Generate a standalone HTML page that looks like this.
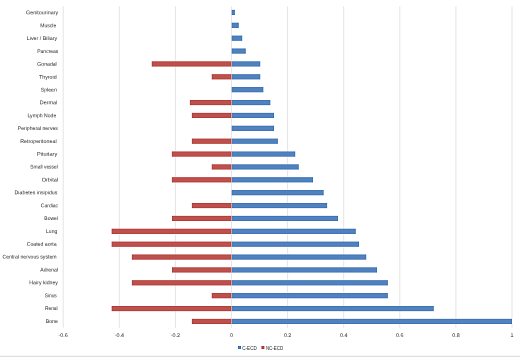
<!DOCTYPE html>
<html><head><meta charset="utf-8"><style>
html,body{margin:0;padding:0;background:#fff;}
body{width:520px;height:357px;overflow:hidden;}
svg{display:block;}
text{font-family:"Liberation Sans",sans-serif;font-size:5.35px;fill:#1e1e1e;}
</style></head><body>
<svg width="520" height="357" viewBox="0 0 520 357">
<defs><filter id="sh" x="0" y="0" width="520" height="357" filterUnits="userSpaceOnUse" color-interpolation-filters="sRGB"><feConvolveMatrix order="3" kernelMatrix="0 -0.14 0 -0.14 1.56 -0.14 0 -0.14 0" preserveAlpha="false" edgeMode="duplicate"/></filter><filter id="gs" x="-5%" y="-5%" width="110%" height="110%" color-interpolation-filters="sRGB"><feGaussianBlur stdDeviation="0.38"/></filter></defs>
<g filter="url(#sh)">
<rect x="0" y="0" width="520" height="357" fill="#fff"/>
<rect x="62.60" y="6.4" width="1.2" height="321.30" fill="#ebebeb"/>
<rect x="118.70" y="6.4" width="1.2" height="321.30" fill="#ebebeb"/>
<rect x="174.80" y="6.4" width="1.2" height="321.30" fill="#ebebeb"/>
<rect x="230.90" y="6.4" width="1.2" height="321.30" fill="#ebebeb"/>
<rect x="287.00" y="6.4" width="1.2" height="321.30" fill="#ebebeb"/>
<rect x="343.10" y="6.4" width="1.2" height="321.30" fill="#ebebeb"/>
<rect x="399.20" y="6.4" width="1.2" height="321.30" fill="#ebebeb"/>
<rect x="455.30" y="6.4" width="1.2" height="321.30" fill="#ebebeb"/>
<rect x="511.40" y="6.4" width="1.2" height="321.30" fill="#ebebeb"/>
<rect x="238" y="346" width="3" height="3" fill="#4f81bd"/>
<rect x="261.4" y="346" width="3" height="3" fill="#bb4e4a"/>
<rect x="0" y="355" width="520" height="1" fill="#f6f6f6"/><rect x="0" y="356" width="520" height="1" fill="#e2e2e2"/>
<rect x="231.65" y="9.79" width="3.25" height="5.30" fill="#5182be"/>
<rect x="231.65" y="22.66" width="7.15" height="5.30" fill="#5182be"/>
<rect x="231.65" y="35.54" width="10.65" height="5.30" fill="#5182be"/>
<rect x="231.65" y="48.41" width="14.15" height="5.30" fill="#5182be"/>
<rect x="231.65" y="61.29" width="28.65" height="5.30" fill="#5182be"/>
<rect x="151.70" y="61.29" width="79.65" height="5.30" fill="#bd514d"/>
<rect x="231.65" y="74.16" width="28.65" height="5.30" fill="#5182be"/>
<rect x="211.70" y="74.16" width="19.65" height="5.30" fill="#bd514d"/>
<rect x="231.65" y="87.04" width="31.75" height="5.30" fill="#5182be"/>
<rect x="231.65" y="99.91" width="38.75" height="5.30" fill="#5182be"/>
<rect x="189.80" y="99.91" width="41.55" height="5.30" fill="#bd514d"/>
<rect x="231.65" y="112.79" width="42.35" height="5.30" fill="#5182be"/>
<rect x="191.80" y="112.79" width="39.55" height="5.30" fill="#bd514d"/>
<rect x="231.65" y="125.66" width="42.35" height="5.30" fill="#5182be"/>
<rect x="231.65" y="138.54" width="46.25" height="5.30" fill="#5182be"/>
<rect x="191.80" y="138.54" width="39.55" height="5.30" fill="#bd514d"/>
<rect x="231.65" y="151.41" width="63.65" height="5.30" fill="#5182be"/>
<rect x="171.80" y="151.41" width="59.55" height="5.30" fill="#bd514d"/>
<rect x="231.65" y="164.29" width="67.15" height="5.30" fill="#5182be"/>
<rect x="211.70" y="164.29" width="19.65" height="5.30" fill="#bd514d"/>
<rect x="231.65" y="177.16" width="81.35" height="5.30" fill="#5182be"/>
<rect x="171.80" y="177.16" width="59.55" height="5.30" fill="#bd514d"/>
<rect x="231.65" y="190.04" width="92.05" height="5.30" fill="#5182be"/>
<rect x="231.65" y="202.91" width="95.55" height="5.30" fill="#5182be"/>
<rect x="191.80" y="202.91" width="39.55" height="5.30" fill="#bd514d"/>
<rect x="231.65" y="215.79" width="106.45" height="5.30" fill="#5182be"/>
<rect x="171.90" y="215.79" width="59.45" height="5.30" fill="#bd514d"/>
<rect x="231.65" y="228.66" width="124.15" height="5.30" fill="#5182be"/>
<rect x="111.60" y="228.66" width="119.75" height="5.30" fill="#bd514d"/>
<rect x="231.65" y="241.54" width="127.45" height="5.30" fill="#5182be"/>
<rect x="111.60" y="241.54" width="119.75" height="5.30" fill="#bd514d"/>
<rect x="231.65" y="254.41" width="134.65" height="5.30" fill="#5182be"/>
<rect x="131.80" y="254.41" width="99.55" height="5.30" fill="#bd514d"/>
<rect x="231.65" y="267.29" width="145.45" height="5.30" fill="#5182be"/>
<rect x="171.90" y="267.29" width="59.45" height="5.30" fill="#bd514d"/>
<rect x="231.65" y="280.16" width="156.25" height="5.30" fill="#5182be"/>
<rect x="131.80" y="280.16" width="99.55" height="5.30" fill="#bd514d"/>
<rect x="231.65" y="293.04" width="156.25" height="5.30" fill="#5182be"/>
<rect x="211.70" y="293.04" width="19.65" height="5.30" fill="#bd514d"/>
<rect x="231.65" y="305.91" width="202.15" height="5.30" fill="#5182be"/>
<rect x="111.60" y="305.91" width="119.75" height="5.30" fill="#bd514d"/>
<rect x="231.65" y="318.79" width="280.35" height="5.30" fill="#5182be"/>
<rect x="191.80" y="318.79" width="39.55" height="5.30" fill="#bd514d"/>
</g>
<g filter="url(#gs)">
<text id="l0" x="58.26" y="14.38" text-anchor="end" textLength="32.22" lengthAdjust="spacingAndGlyphs" transform="rotate(0.04 58.26 14.38)">Genitourinary</text>
<text id="l1" x="56.26" y="27.23" text-anchor="end" textLength="16.08" lengthAdjust="spacingAndGlyphs" transform="rotate(0.04 56.26 27.23)">Muscle</text>
<text id="l2" x="57.18" y="40.09" text-anchor="end" textLength="30.37" lengthAdjust="spacingAndGlyphs" transform="rotate(0.04 57.18 40.09)">Liver / Biliary</text>
<text id="l3" x="58.36" y="52.94" text-anchor="end" textLength="21.09" lengthAdjust="spacingAndGlyphs" transform="rotate(0.04 58.36 52.94)">Pancreas</text>
<text id="l4" x="56.78" y="65.80" text-anchor="end" textLength="19.45" lengthAdjust="spacingAndGlyphs" transform="rotate(0.04 56.78 65.80)">Gonadal</text>
<text id="l5" x="56.64" y="78.65" text-anchor="end" textLength="17.53" lengthAdjust="spacingAndGlyphs" transform="rotate(0.04 56.64 78.65)">Thyroid</text>
<text id="l6" x="56.78" y="91.51" text-anchor="end" textLength="15.96" lengthAdjust="spacingAndGlyphs" transform="rotate(0.04 56.78 91.51)">Spleen</text>
<text id="l7" x="57.24" y="104.36" text-anchor="end" textLength="17.36" lengthAdjust="spacingAndGlyphs" transform="rotate(0.04 57.24 104.36)">Dermal</text>
<text id="l8" x="56.26" y="117.22" text-anchor="end" textLength="28.78" lengthAdjust="spacingAndGlyphs" transform="rotate(0.04 56.26 117.22)">Lymph Node</text>
<text id="l9" x="57.86" y="130.07" text-anchor="end" textLength="40.10" lengthAdjust="spacingAndGlyphs" transform="rotate(0.04 57.86 130.07)">Peripheral nerves</text>
<text id="l10" x="56.58" y="142.93" text-anchor="end" textLength="36.39" lengthAdjust="spacingAndGlyphs" transform="rotate(0.04 56.58 142.93)">Retroperitoneal</text>
<text id="l11" x="57.24" y="155.78" text-anchor="end" textLength="20.32" lengthAdjust="spacingAndGlyphs" transform="rotate(0.04 57.24 155.78)">Pituitary</text>
<text id="l12" x="57.86" y="168.64" text-anchor="end" textLength="27.57" lengthAdjust="spacingAndGlyphs" transform="rotate(0.04 57.86 168.64)">Small vessel</text>
<text id="l13" x="58.04" y="181.49" text-anchor="end" textLength="16.33" lengthAdjust="spacingAndGlyphs" transform="rotate(0.04 58.04 181.49)">Orbital</text>
<text id="l14" x="57.44" y="194.35" text-anchor="end" textLength="42.94" lengthAdjust="spacingAndGlyphs" transform="rotate(0.04 57.44 194.35)">Diabetes insipidus</text>
<text id="l15" x="58.04" y="207.20" text-anchor="end" textLength="17.19" lengthAdjust="spacingAndGlyphs" transform="rotate(0.04 58.04 207.20)">Cardiac</text>
<text id="l16" x="57.86" y="220.06" text-anchor="end" textLength="13.54" lengthAdjust="spacingAndGlyphs" transform="rotate(0.04 57.86 220.06)">Bowel</text>
<text id="l17" x="57.24" y="232.91" text-anchor="end" textLength="11.20" lengthAdjust="spacingAndGlyphs" transform="rotate(0.04 57.24 232.91)">Lung</text>
<text id="l18" x="56.64" y="245.77" text-anchor="end" textLength="29.96" lengthAdjust="spacingAndGlyphs" transform="rotate(0.04 56.64 245.77)">Coated aorta</text>
<text id="l19" x="56.66" y="258.62" text-anchor="end" textLength="54.24" lengthAdjust="spacingAndGlyphs" transform="rotate(0.04 56.66 258.62)">Central nervous system</text>
<text id="l20" x="57.86" y="271.48" text-anchor="end" textLength="17.55" lengthAdjust="spacingAndGlyphs" transform="rotate(0.04 57.86 271.48)">Adrenal</text>
<text id="l21" x="57.96" y="284.33" text-anchor="end" textLength="28.61" lengthAdjust="spacingAndGlyphs" transform="rotate(0.04 57.96 284.33)">Hairy kidney</text>
<text id="l22" x="56.78" y="297.19" text-anchor="end" textLength="12.11" lengthAdjust="spacingAndGlyphs" transform="rotate(0.04 56.78 297.19)">Sinus</text>
<text id="l23" x="57.68" y="310.04" text-anchor="end" textLength="12.76" lengthAdjust="spacingAndGlyphs" transform="rotate(0.04 57.68 310.04)">Renal</text>
<text id="l24" x="57.88" y="322.90" text-anchor="end" textLength="12.09" lengthAdjust="spacingAndGlyphs" transform="rotate(0.04 57.88 322.90)">Bone</text>
<text x="63.20" y="336.9" text-anchor="middle" transform="rotate(0.04 63.20 336.9)">-0.6</text>
<text x="119.30" y="336.9" text-anchor="middle" transform="rotate(0.04 119.30 336.9)">-0.4</text>
<text x="175.40" y="336.9" text-anchor="middle" transform="rotate(0.04 175.40 336.9)">-0.2</text>
<text x="231.50" y="336.9" text-anchor="middle" transform="rotate(0.04 231.50 336.9)">0</text>
<text x="287.60" y="336.9" text-anchor="middle" transform="rotate(0.04 287.60 336.9)">0.2</text>
<text x="343.70" y="336.9" text-anchor="middle" transform="rotate(0.04 343.70 336.9)">0.4</text>
<text x="399.80" y="336.9" text-anchor="middle" transform="rotate(0.04 399.80 336.9)">0.6</text>
<text x="455.90" y="336.9" text-anchor="middle" transform="rotate(0.04 455.90 336.9)">0.8</text>
<text x="512.00" y="336.9" text-anchor="middle" transform="rotate(0.04 512.00 336.9)">1</text>
<text x="242.3" y="349.5" style="font-size:5.9px" textLength="14.4" lengthAdjust="spacingAndGlyphs">C-ECD</text>
<text x="265.9" y="349.5" style="font-size:5.9px" textLength="17.2" lengthAdjust="spacingAndGlyphs">NC-ECD</text>
</g>
</svg>
</body></html>
